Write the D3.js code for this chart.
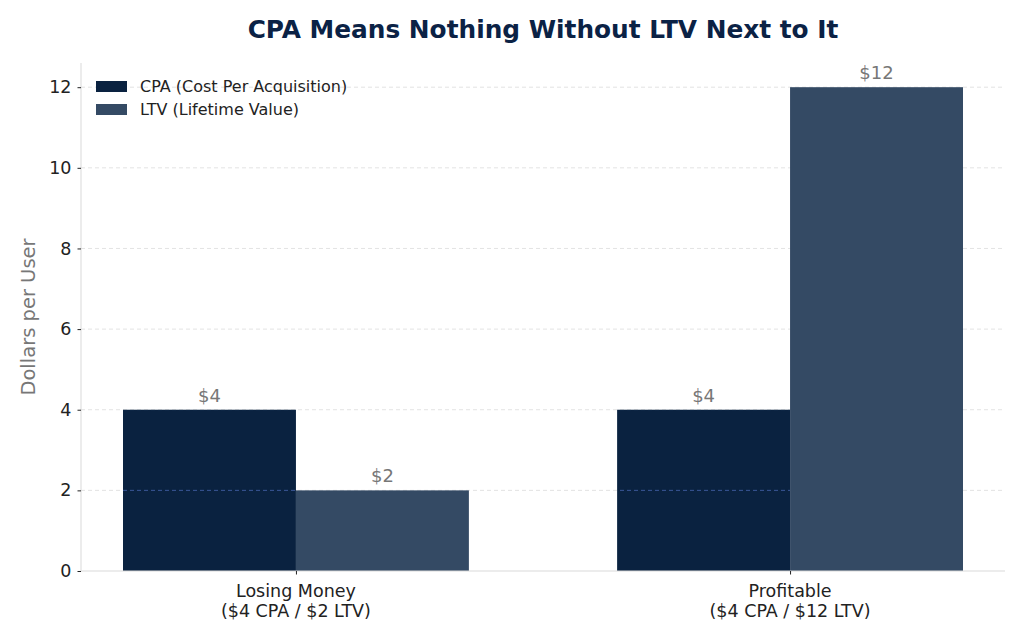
<!DOCTYPE html>
<html>
<head>
<meta charset="utf-8">
<script src="https://cdn.jsdelivr.net/npm/d3@7"></script>
<style>
  body { margin: 0; background: #fff; }
  text { font-family: "DejaVu Sans", sans-serif; }
</style>
</head>
<body>
<div id="chart"></div>
<script>
'use strict';

const categories = ['Losing Money\n($4 CPA / $2 LTV)', 'Profitable\n($4 CPA / $12 LTV)'];
const seriesNames = ['CPA (Cost Per Acquisition)', 'LTV (Lifetime Value)'];
const cpaValues = [4, 4];
const ltvValues = [2, 12];
const yTicks = [0, 2, 4, 6, 8, 10, 12];

const width = 1024;
const height = 640;
const margin = { top: 63, right: 19, bottom: 69, left: 81 };
const colors = ['#0a2240', '#344a64'];

const svg = d3.select('#chart').append('svg')
  .attr('width', width)
  .attr('height', height);

const plotW = width - margin.left - margin.right;
const plotH = height - margin.top - margin.bottom;
const barW = 0.35;

// matplotlib style margins: 5% on both axes
const xScale = d3.scaleLinear()
  .domain([-barW - 0.085, 1 + barW + 0.085])
  .range([0, plotW]);

const yScale = d3.scaleLinear()
  .domain([0, 12.6])
  .range([plotH, 0]);

const chart = svg.append('g')
  .attr('transform', `translate(${margin.left}, ${margin.top})`);

// grid lines behind everything
const drawGrid = function (g, color) {
  g.selectAll('line')
    .data(yTicks.slice(1))
    .join('line')
    .attr('x1', 0)
    .attr('x2', plotW)
    .attr('y1', d => yScale(d))
    .attr('y2', d => yScale(d))
    .attr('stroke', color)
    .attr('stroke-width', 1)
    .attr('stroke-dasharray', '4,3');
};
drawGrid(chart.append('g').attr('class', 'grid'), '#e3e3e3');

const series = [cpaValues, ltvValues];
const offsets = [-barW / 2, barW / 2];

// CPA bars
chart.append('g')
  .selectAll('rect')
  .data(cpaValues)
  .join('rect')
  .attr('x', (d, i) => xScale(i + offsets[0] - barW / 2))
  .attr('width', xScale(barW) - xScale(0))
  .attr('y', d => yScale(d))
  .attr('height', d => yScale(0) - yScale(d))
  .attr('fill', colors[0]);

// grid shows through the CPA bars (matplotlib z-order)
const clip = svg.append('defs').append('clipPath').attr('id', 'cpaClip');
clip.selectAll('rect')
  .data(cpaValues)
  .join('rect')
  .attr('x', (d, i) => xScale(i + offsets[0] - barW / 2))
  .attr('width', xScale(barW) - xScale(0))
  .attr('y', d => yScale(d) + 1)
  .attr('height', d => yScale(0) - yScale(d) - 1);
drawGrid(chart.append('g').attr('clip-path', 'url(#cpaClip)'), '#3a5897');

// LTV bars
chart.append('g')
  .selectAll('rect')
  .data(ltvValues)
  .join('rect')
  .attr('x', (d, i) => xScale(i + offsets[1] - barW / 2))
  .attr('width', xScale(barW) - xScale(0))
  .attr('y', d => yScale(d))
  .attr('height', d => yScale(0) - yScale(d))
  .attr('fill', colors[1]);

// value labels
series.forEach(function (vals, s) {
  chart.append('g')
    .selectAll('text')
    .data(vals)
    .join('text')
    .attr('x', (d, i) => xScale(i + offsets[s]))
    .attr('y', d => yScale(d) - 8)
    .attr('text-anchor', 'middle')
    .attr('fill', '#777')
    .attr('font-size', '18px')
    .text(d => '$' + d);
});

// spines
chart.append('line')
  .attr('x1', 0).attr('x2', 0)
  .attr('y1', 0).attr('y2', plotH)
  .attr('stroke', '#d9d9d9');
chart.append('line')
  .attr('x1', 0).attr('x2', plotW)
  .attr('y1', plotH).attr('y2', plotH)
  .attr('stroke', '#d9d9d9');

// y axis
const yAxis = d3.axisLeft(yScale)
  .tickValues(yTicks)
  .tickSize(3.5)
  .tickPadding(6);
const yAxisG = chart.append('g').call(yAxis);
yAxisG.select('.domain').remove();
yAxisG.selectAll('line').attr('stroke', '#222');
yAxisG.selectAll('text')
  .attr('font-size', '17.5px')
  .attr('fill', '#222')
  .attr('font-family', '"DejaVu Sans", sans-serif');

// x axis
const xAxis = d3.axisBottom(xScale)
  .tickValues([0, 1])
  .tickSize(3.5)
  .tickFormat('');
const xAxisG = chart.append('g')
  .attr('transform', `translate(0, ${plotH})`)
  .call(xAxis);
xAxisG.select('.domain').remove();
xAxisG.selectAll('line').attr('stroke', '#222');

chart.append('g')
  .selectAll('text')
  .data(categories)
  .join('text')
  .attr('x', (d, i) => xScale(i))
  .attr('y', plotH + 26)
  .attr('text-anchor', 'middle')
  .attr('font-size', '17.5px')
  .attr('fill', '#222')
  .each(function (d) {
    const lines = d.split('\n');
    d3.select(this).selectAll('tspan')
      .data(lines)
      .join('tspan')
      .attr('x', d3.select(this).attr('x'))
      .attr('dy', (l, j) => j === 0 ? 0 : 20)
      .text(l => l);
  });

// y label
svg.append('text')
  .attr('transform', `translate(35, ${margin.top + plotH / 2}) rotate(-90)`)
  .attr('text-anchor', 'middle')
  .attr('fill', '#777')
  .attr('font-size', '19.5px')
  .text('Dollars per User');

// title
svg.append('text')
  .attr('x', margin.left + plotW / 2)
  .attr('y', 38)
  .attr('text-anchor', 'middle')
  .attr('font-size', '24.8px')
  .attr('font-weight', 'bold')
  .attr('fill', '#0b2245')
  .text('CPA Means Nothing Without LTV Next to It');

// legend
const legend = svg.append('g')
  .attr('transform', 'translate(96, 81)');
const legendItems = legend.selectAll('g')
  .data(seriesNames)
  .join('g')
  .attr('transform', (d, i) => `translate(0, ${i * 23})`);
legendItems.append('rect')
  .attr('width', 31)
  .attr('height', 11)
  .attr('fill', (d, i) => colors[i]);
legendItems.append('text')
  .attr('x', 44)
  .attr('y', 11)
  .attr('font-size', '16px')
  .attr('fill', '#222')
  .text(d => d);
</script>
</body>
</html>
